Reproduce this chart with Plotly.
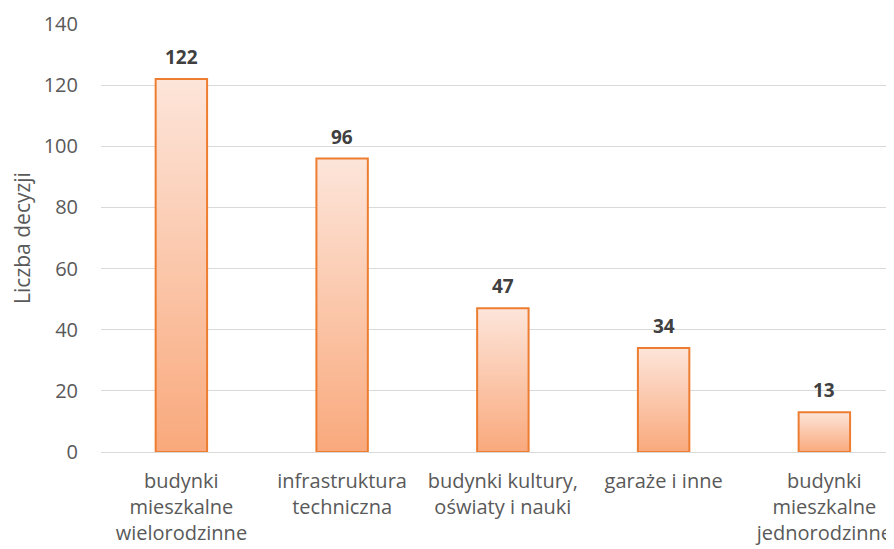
#bar chart of decisions by building category, gradient bars like the excel original
import plotly.graph_objects as go

#%%
categories = ['budynki<br>mieszkalne<br>wielorodzinne', 'infrastruktura<br>techniczna',
              'budynki kultury,<br>oświaty i nauki', 'garaże i inne',
              'budynki<br>mieszkalne<br>jednorodzinne']
values = [122, 96, 47, 34, 13]
y_ticks = [0, 20, 40, 60, 80, 100, 120, 140]

font_name = 'Open Sans'
bar_half = 0.16#half of the bar width in category units
orange = '#ED7D31'

fig = go.Figure()

#each bar is a closed polygon so it can take a vertical gradient fill
for i, v in enumerate(values):
    fig.add_trace(go.Scatter(
        x=[i - bar_half, i - bar_half, i + bar_half, i + bar_half, i - bar_half],
        y=[0, v, v, 0, 0],
        mode='lines', fill='toself',
        line=dict(color=orange, width=2),
        fillgradient=dict(type='vertical', colorscale=[[0, '#F9A97C'], [1, '#FDE5DA']]),
        hoverinfo='skip', showlegend=False))

#bold value labels on top
for i, v in enumerate(values):
    fig.add_annotation(x=i, y=v, text='<b>%d</b>' % v, showarrow=False,
                       yanchor='bottom', yshift=7,
                       font=dict(family=font_name, size=19, color='#404040'))

#page has 8px body margin, so margins are shifted by that
fig.update_layout(
    width=894, height=549,
    margin=dict(l=93, r=0, t=16, b=105),
    plot_bgcolor='white', paper_bgcolor='white',
    font=dict(family=font_name, size=20, color='#595959'),
)
fig.update_xaxes(range=[-0.5, 4.483], tickvals=list(range(len(categories))), ticktext=categories,
                 showgrid=False, zeroline=False, showline=False, ticks='', ticklabelstandoff=15,
                 tickfont=dict(size=20, color='#595959'))
fig.update_yaxes(range=[0, 140], tickvals=y_ticks, showgrid=True, gridcolor='#D9D9D9', gridwidth=1,
                 zeroline=True, zerolinecolor='#D9D9D9', zerolinewidth=1, showline=False, ticks='',
                 ticklabelstandoff=22, tickfont=dict(size=20, color='#595959'),
                 title=dict(text='Liczba decyzji', standoff=15, font=dict(size=21, color='#595959')))

fig.write_html("out.html")
